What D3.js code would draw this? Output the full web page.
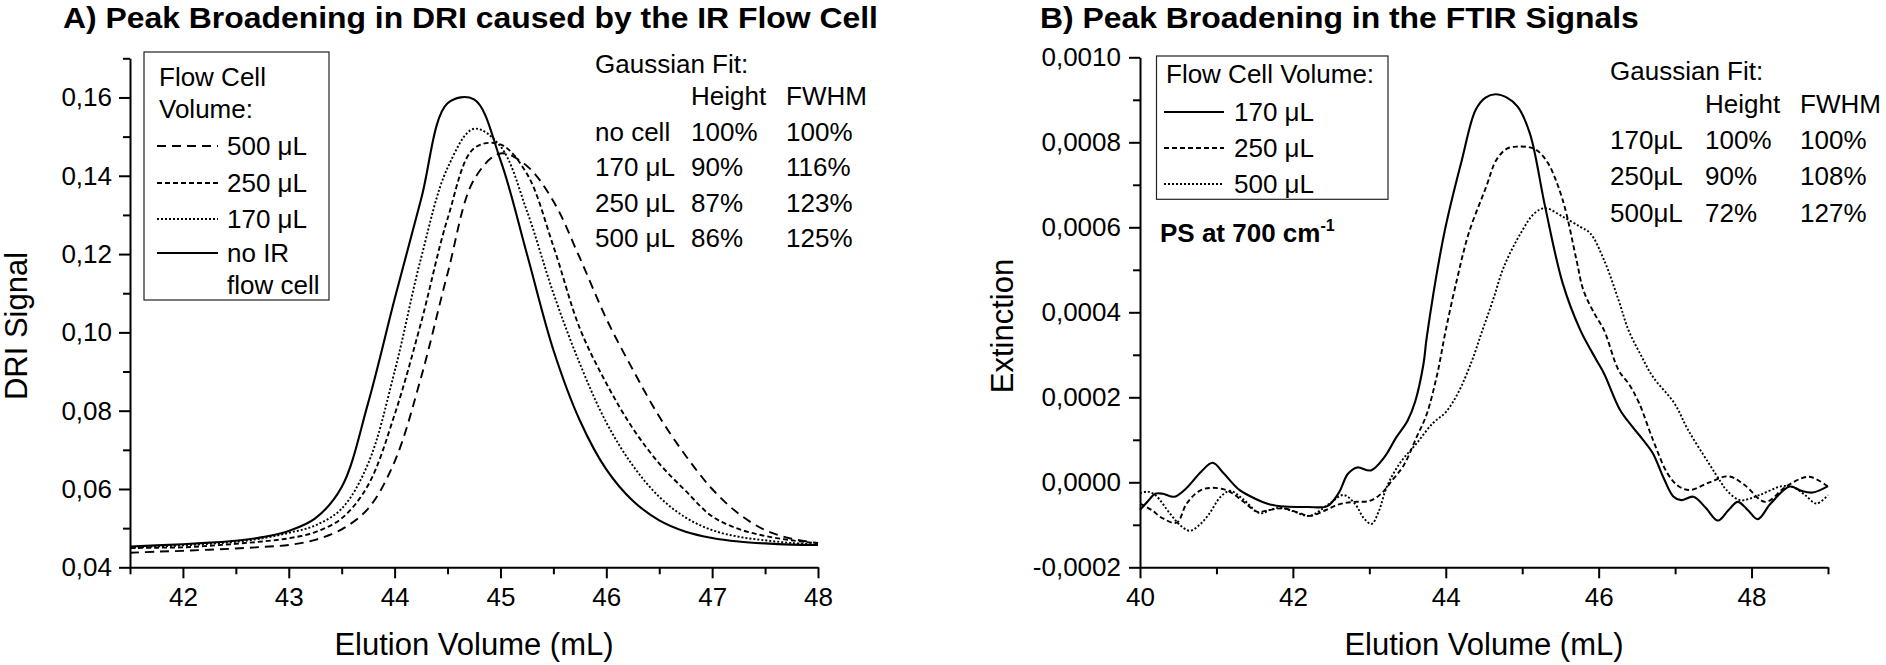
<!DOCTYPE html>
<html>
<head>
<meta charset="utf-8">
<script src="https://cdn.jsdelivr.net/npm/d3@7"></script>
<style>
	body { margin: 0; background: #fff; }
	svg { display: block; }
</style>
</head>
<body>
<div id="chart"></div>
<script>
// ---- Panel A: DRI signal ----
const volA = [41.5, 41.75, 42, 42.25, 42.5, 42.75, 43, 43.25, 43.5, 43.75, 44, 44.25, 44.5,
	44.75, 45, 45.25, 45.5, 45.75, 46, 46.25, 46.5, 46.75, 47, 47.25, 47.5, 47.75, 48];
const driNoCell = [.0453, .0456, .0459, .0463, .0468, .0477, .0493, .0525, .0605, .0820, .1085, .1340, .1585,
	.1595, .1440, .1200, .0955, .0775, .0650, .0570, .0520, .0491, .0475, .0466, .0461, .0458, .0457];
const dri170 = [.0450, .0453, .0456, .0460, .0465, .0474, .0488, .0507, .0550, .0665, .0900, .1190, .1420,
	.1520, .1475, .1310, .1100, .0920, .0770, .0660, .0580, .0527, .0495, .0478, .0469, .0462, .0458];
const dri250 = [.0449, .0450, .0451, .0455, .0460, .0466, .0474, .0490, .0525, .0610, .0790, .1025, .1290,
	.1470, .1480, .1405, .1220, .1010, .0870, .0755, .0665, .0595, .0530, .0498, .0480, .0469, .0461];
const dri500 = [.0437, .0440, .0442, .0445, .0448, .0452, .0457, .0470, .0497, .0550, .0670, .0885, .1150,
	.1390, .1457, .1425, .1335, .1190, .1035, .0905, .0785, .0685, .0600, .0537, .0495, .0473, .0462];

// ---- Panel B: FTIR extinction (values in units of 1e-4) ----
const extUnit = 1e-4;
const vol170 = [40, 40.1, 40.2, 40.3, 40.45, 40.6, 40.8, 40.95, 41.1, 41.3, 41.5, 41.7, 41.9, 42.2, 42.45,
	42.6, 42.72, 42.84, 43.02, 43.2, 43.35, 43.5, 43.6, 43.71, 43.75, 43.98, 44.21, 44.39, 44.52, 44.65,
	44.8, 44.94, 45.1, 45.3, 45.53, 45.76, 45.97, 46.07, 46.28, 46.44, 46.58, 46.71, 46.85, 46.98, 47.08,
	47.24, 47.4, 47.56, 47.7, 47.82, 47.95, 48.08, 48.25, 48.5, 48.65, 48.8, 49];
const ext170 = [-0.65, -0.45, -0.27, -0.27, -0.34, -0.15, 0.25, 0.46, 0.2, -0.18, -0.38, -0.52, -0.57, -0.58, -0.56,
	-0.25, 0.2, 0.35, 0.28, 0.6, 1.05, 1.45, 1.9, 2.8, 3.4, 5.86, 7.58, 8.76, 9.05, 9.13,
	9.05, 8.84, 8.21, 6.48, 4.68, 3.58, 2.88, 2.56, 1.7, 1.31, 1.0, 0.68, 0.1, -0.34, -0.42,
	-0.34, -0.6, -0.9, -0.65, -0.46, -0.65, -0.87, -0.5, -0.1, -0.2, -0.24, -0.09];
const vol250 = [40, 40.15, 40.3, 40.48, 40.61, 40.78, 40.94, 41.15, 41.35, 41.53, 41.7, 41.87, 42.05, 42.22,
	42.4, 42.6, 42.8, 43, 43.16, 43.3, 43.45, 43.62, 43.75, 43.89, 44, 44.15, 44.3, 44.53, 44.66, 44.8,
	44.94, 45.1, 45.2, 45.34, 45.53, 45.71, 45.8, 45.95, 46.07, 46.26, 46.4, 46.53, 46.71, 46.9, 47.05,
	47.2, 47.45, 47.7, 47.9, 48.18, 48.45, 48.75, 49];
const ext250 = [-0.5, -0.65, -0.85, -0.95, -0.5, -0.2, -0.13, -0.2, -0.45, -0.69, -0.65, -0.61, -0.7, -0.79,
	-0.68, -0.52, -0.46, -0.44, -0.26, 0.05, 0.4, 1.07, 1.6, 2.56, 3.58, 4.8, 5.86, 6.96, 7.58, 7.85,
	7.9, 7.88, 7.8, 7.5, 6.64, 5.23, 4.52, 3.95, 3.58, 2.64, 2.3, 1.86, 1.0, 0.21, -0.1,
	-0.18, 0.0, 0.14, -0.05, -0.46, -0.1, 0.13, -0.1];
const vol500 = [40, 40.1, 40.2, 40.39, 40.52, 40.65, 40.78, 40.91, 41.05, 41.18, 41.35, 41.57, 41.7, 41.83,
	42, 42.22, 42.48, 42.66, 42.81, 42.93, 43.03, 43.12, 43.23, 43.4, 43.62, 43.83, 44, 44.16, 44.34,
	44.48, 44.62, 44.76, 44.98, 45.16, 45.3, 45.53, 45.76, 45.89, 46.07, 46.26, 46.39, 46.55, 46.71,
	46.99, 47.17, 47.44, 47.6, 47.67, 47.85, 48.1, 48.4, 48.55, 48.7, 48.85, 49];
const ext500 = [-0.26, -0.22, -0.3, -0.73, -1.0, -1.14, -1.0, -0.73, -0.35, -0.2, -0.4, -0.73, -0.65, -0.6,
	-0.68, -0.79, -0.5, -0.3, -0.5, -0.85, -0.98, -0.7, -0.1, 0.45, 0.92, 1.39, 1.65, 2.1, 2.85,
	3.58, 4.3, 5.07, 5.86, 6.33, 6.45, 6.25, 6.01, 5.86, 5.23, 4.29, 3.58, 3.0, 2.48,
	1.86, 1.23, 0.45, 0.0, -0.18, -0.42, -0.3, -0.09, -0.12, -0.3, -0.5, -0.3];

// ---- ticks ----
const xMajorA = [42, 43, 44, 45, 46, 47, 48];
const xMinorA = [41.5, 42.5, 43.5, 44.5, 45.5, 46.5, 47.5];
const yMajorA = [0.04, 0.06, 0.08, 0.10, 0.12, 0.14, 0.16];
const yMinorA = [0.05, 0.07, 0.09, 0.11, 0.13, 0.15, 0.17];
const xMajorB = [40, 42, 44, 46, 48];
const xMinorB = [41, 43, 45, 47, 49];
const yMajorB = [-0.0002, 0, 0.0002, 0.0004, 0.0006, 0.0008, 0.0010];
const yMinorB = [-0.0001, 0.0001, 0.0003, 0.0005, 0.0007, 0.0009];

// ---- annotation tables ----
const gaussHead = ['Height', 'FWHM'];
const gaussRowsA = [
	['no cell', '100%', '100%'],
	['170 μL', '90%', '116%'],
	['250 μL', '87%', '123%'],
	['500 μL', '86%', '125%'],
];
const gaussRowsB = [
	['170μL', '100%', '100%'],
	['250μL', '90%', '108%'],
	['500μL', '72%', '127%'],
];

const font = '"Liberation Sans", Arial, sans-serif';
const dashes = {solid: null, longDash: '9,6', shortDash: '5,3', dot: '2,2'};

const svg = d3.select('#chart')
	.append('svg')
	.attr('width', 1886)
	.attr('height', 665)
	.attr('font-family', font);

// scales
const xA = d3.scaleLinear().domain([41.5, 48]).range([130, 818]);
const yA = d3.scaleLinear().domain([0.04, 0.17]).range([567.3, 58.3]);
const xB = d3.scaleLinear().domain([40, 49]).range([1140, 1828]);
const yB = d3.scaleLinear().domain([-0.0002, 0.0010]).range([567.3, 57.3]);

const commaFmt = (f) => (d) => d3.format(f)(d).replace('.', ',').replace('−', '-');

// draws major + minor ticks for one axis
function drawAxis(make, scale, pos, major, minor, fmt, pad) {
	const g = svg.append('g').attr('transform', pos);
	g.append('g')
		.call(make(scale).tickValues(minor).tickSize(7).tickFormat(''))
		.call((s) => s.select('.domain').remove());
	g.append('g')
		.call(make(scale).tickValues(major).tickSize(11).tickSizeOuter(0).tickPadding(pad).tickFormat(fmt));
	g.selectAll('line, path').attr('stroke', '#000').attr('stroke-width', 2);
	g.selectAll('text').attr('font-size', 26).attr('font-family', font).attr('fill', '#000');
	g.selectAll('g').attr('font-size', null).attr('font-family', null);
	return g;
}

drawAxis(d3.axisLeft, yA, 'translate(130,0)', yMajorA, yMinorA, commaFmt('.2f'), 7);
drawAxis(d3.axisBottom, xA, 'translate(0,567.3)', xMajorA, xMinorA, d3.format('d'), 9);
drawAxis(d3.axisLeft, yB, 'translate(1140,0)', yMajorB, yMinorB, commaFmt('.4f'), 8);
drawAxis(d3.axisBottom, xB, 'translate(0,567.3)', xMajorB, xMinorB, d3.format('d'), 9);

// curves
function drawCurve(x, y, xs, ys, dash, k) {
	const line = d3.line()
		.x((d, i) => x(xs[i]))
		.y((d) => y(d * k))
		.curve(d3.curveCatmullRom.alpha(0.5));
	svg.append('path')
		.datum(ys)
		.attr('d', line)
		.attr('fill', 'none')
		.attr('stroke', '#000')
		.attr('stroke-width', dash ? 1.9 : 2.1)
		.attr('stroke-dasharray', dash);
}

drawCurve(xA, yA, volA, dri500, dashes.longDash, 1);
drawCurve(xA, yA, volA, dri250, dashes.shortDash, 1);
drawCurve(xA, yA, volA, dri170, dashes.dot, 1);
drawCurve(xA, yA, volA, driNoCell, dashes.solid, 1);

drawCurve(xB, yB, vol500, ext500, dashes.dot, extUnit);
drawCurve(xB, yB, vol250, ext250, dashes.shortDash, extUnit);
drawCurve(xB, yB, vol170, ext170, dashes.solid, extUnit);

// text helper
function label(x, y, str, size, opts = {}) {
	const t = svg.append('text')
		.attr('font-size', size)
		.attr('font-weight', opts.bold ? 'bold' : null)
		.attr('text-anchor', opts.anchor || 'start')
		.text(str);
	if (opts.rotate) t.attr('transform', `translate(${x},${y}) rotate(-90)`);
	else if (opts.stretch) t.attr('transform', `translate(${x},${y}) scale(${opts.stretch},1)`);
	else t.attr('x', x).attr('y', y);
	return t;
}

// titles (the original lettering is a little wider than it is tall)
label(63, 28, 'A) Peak Broadening in DRI caused by the IR Flow Cell', 29, {bold: true, stretch: 1.1});
label(1040, 28, 'B) Peak Broadening in the FTIR Signals', 29, {bold: true, stretch: 1.1});

// axis titles
label(474, 655, 'Elution Volume (mL)', 31, {anchor: 'middle'});
label(1484, 655, 'Elution Volume (mL)', 31, {anchor: 'middle'});
label(27, 326, 'DRI Signal', 31, {anchor: 'middle', rotate: true});
label(1013, 326, 'Extinction', 31, {anchor: 'middle', rotate: true});

// legend A
svg.append('rect')
	.attr('x', 144).attr('y', 52).attr('width', 185).attr('height', 248)
	.attr('fill', 'none').attr('stroke', '#222').attr('stroke-width', 1.2);
label(159, 86, 'Flow Cell', 26);
label(159, 118, 'Volume:', 26);
const legendA = [
	{name: '500 μL', dash: dashes.longDash, y: 155},
	{name: '250 μL', dash: dashes.shortDash, y: 192},
	{name: '170 μL', dash: dashes.dot, y: 228},
	{name: 'no IR', dash: dashes.solid, y: 262},
];
legendA.forEach((l) => {
	svg.append('line')
		.attr('x1', 157).attr('x2', 218)
		.attr('y1', l.y - 9).attr('y2', l.y - 9)
		.attr('stroke', '#000').attr('stroke-width', l.dash ? 1.9 : 2.1)
		.attr('stroke-dasharray', l.dash);
	label(227, l.y, l.name, 26);
});
label(227, 294, 'flow cell', 26);

// legend B
svg.append('rect')
	.attr('x', 1156.5).attr('y', 56).attr('width', 231.5).attr('height', 143.3)
	.attr('fill', 'none').attr('stroke', '#222').attr('stroke-width', 1.2);
label(1166, 83, 'Flow Cell Volume:', 26);
const legendB = [
	{name: '170 μL', dash: dashes.solid, y: 121},
	{name: '250 μL', dash: dashes.shortDash, y: 157},
	{name: '500 μL', dash: dashes.dot, y: 193},
];
legendB.forEach((l) => {
	svg.append('line')
		.attr('x1', 1164).attr('x2', 1224)
		.attr('y1', l.y - 9).attr('y2', l.y - 9)
		.attr('stroke', '#000').attr('stroke-width', l.dash ? 1.9 : 2.1)
		.attr('stroke-dasharray', l.dash);
	label(1234, l.y, l.name, 26);
});

// PS at 700 cm-1
const ps = label(1160, 242, 'PS at 700 cm', 26, {bold: true});
ps.append('tspan').attr('dy', -11).attr('font-size', 16).text('-1');

// Gaussian fit tables
function gaussTable(cols, yTitle, yHead, rows, dy) {
	label(cols[0], yTitle, 'Gaussian Fit:', 26);
	gaussHead.forEach((h, i) => label(cols[i + 1], yHead, h, 26));
	rows.forEach((r, j) => {
		r.forEach((c, i) => label(cols[i], yHead + dy * (j + 1), c, 26));
	});
}
gaussTable([595, 691, 786], 72.5, 105, gaussRowsA, 35.6);
gaussTable([1610, 1705, 1800], 80, 113, gaussRowsB, 36.2);
</script>
</body>
</html>
